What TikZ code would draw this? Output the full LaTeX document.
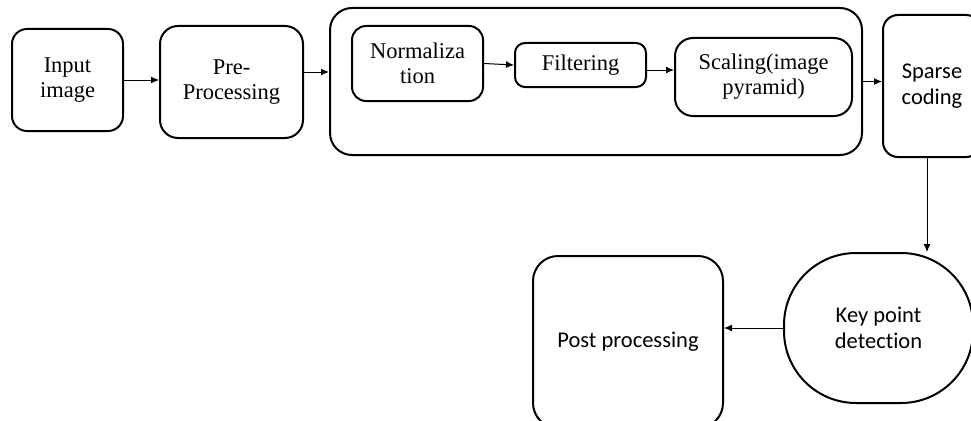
\documentclass[tikz,border=0pt]{standalone}
\usepackage{fontspec}
\setmainfont{Liberation Serif}
\newfontfamily\calibrisub{Carlito}[Ligatures=NoCommon]
\usetikzlibrary{arrows.meta,calc}
\tikzset{
  box/.style={draw, line width=2pt, rounded corners=#1, align=center, inner sep=0pt,
    font=\fontsize{22.5}{25}\selectfont},
  box/.default=15pt,
  sans/.style={font=\calibrisub\fontsize{22.5}{26}\selectfont},
  flow/.style={line width=1pt, -{Latex[length=8pt,width=7pt]}}
}
\begin{document}
\begin{tikzpicture}[x=1pt,y=-1pt]
\useasboundingbox (0,0) rectangle (971,420);
\clip (0,0) rectangle (971,420);
\fill[white] (0,0) rectangle (971,420);

% top row
\node[box=15pt, minimum width=111pt, minimum height=102pt] (input) at (67.5,80) {Input\\image};
\node[box=18pt, minimum width=143pt, minimum height=112pt] (pre) at (231.5,82) {Pre-\\Processing};
\node[box=22pt, minimum width=532pt, minimum height=147pt] (group) at (596,81.5) {};
\node[box=14pt, minimum width=131pt, minimum height=75pt] (norm) at (417.5,63.5) {Normaliza\\tion};
\node[box=10pt, minimum width=131pt, minimum height=44pt] (filt) at (580.5,65) {Filtering};
\node[box=18pt, minimum width=177pt, minimum height=78pt] (scal) at (763.5,77) {Scaling(image\\pyramid)};
\node[box=15pt, sans, minimum width=98pt, minimum height=142pt] (sparse) at (932,86) {Sparse\\coding};

% bottom row
\node[box=72pt, sans, minimum width=189pt, minimum height=150pt] (key) at (878.5,328) {Key point\\detection};
\node[box=25pt, sans, minimum width=190pt, minimum height=172pt] (post) at (628,342) {Post processing};

% connectors
\draw[flow] (input.east) -- (input.east -| pre.west);
\draw[flow] ([yshift=10pt]pre.east) -- ([yshift=10pt]pre.east -| group.west);
\draw[flow] (norm.east) -- (filt.west);
\draw[flow] ([yshift=-5pt]filt.east) -- ([yshift=-5pt]filt.east -| scal.west);
\draw[flow] (group.east) -- (group.east -| sparse.west);
\draw[flow] ([xshift=-5pt]sparse.south) -- ([xshift=-5pt]sparse.south |- key.north);
\draw[flow] (key.west) -- (key.west -| post.east);
\end{tikzpicture}
\end{document}
